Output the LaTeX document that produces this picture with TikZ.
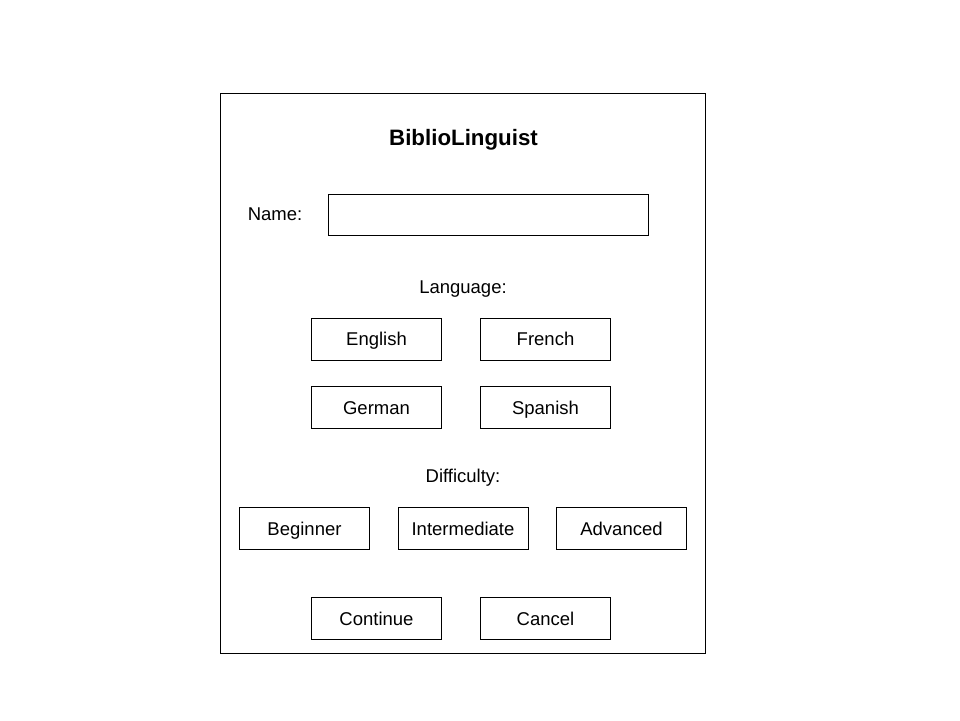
\documentclass[tikz,border=0pt]{standalone}
\usepackage{fontspec}
\setmainfont{Liberation Sans}
\begin{document}
\begin{tikzpicture}[x=1pt,y=-1pt,
  box/.style={draw=black,line width=1pt,minimum width=130pt,minimum height=42pt,inner sep=0pt,text height=13.3pt,text depth=0pt,font=\fontsize{18.5}{22}\selectfont},
  lbl/.style={inner sep=0pt,text height=13.3pt,text depth=0pt,font=\fontsize{18.5}{22}\selectfont}]
\useasboundingbox[fill=white] (0,0) rectangle (960,720);
\node[draw=black,line width=1pt,minimum width=485pt,minimum height=560pt,inner sep=0pt] (frame) at (463,373) {};
\node[inner sep=0pt,text height=16pt,text depth=0pt,font=\fontsize{22.3}{26}\selectfont\bfseries] (title) at (463.5,137) {BiblioLinguist};
\node[lbl] (namel) at (275,214) {Name:};
\node[box,minimum width=320pt,minimum height=41pt] (namef) at (488,214.5) {};
\node[lbl] (langl) at (463,287) {Language:};
\node[box] (en) at (376.5,339) {English};
\node[box] (fr) at (545.5,339) {French};
\node[box] (de) at (376.5,407.5) {German};
\node[box] (es) at (545.5,407.5) {Spanish};
\node[lbl] (diffl) at (463,476) {Difficulty:};
\node[box] (beg) at (304.5,528.5) {Beginner};
\node[box] (mid) at (463,528.5) {Intermediate};
\node[box] (adv) at (621.5,528.5) {Advanced};
\node[box] (cont) at (376.5,618.5) {Continue};
\node[box] (canc) at (545.5,618.5) {Cancel};
\end{tikzpicture}
\end{document}
